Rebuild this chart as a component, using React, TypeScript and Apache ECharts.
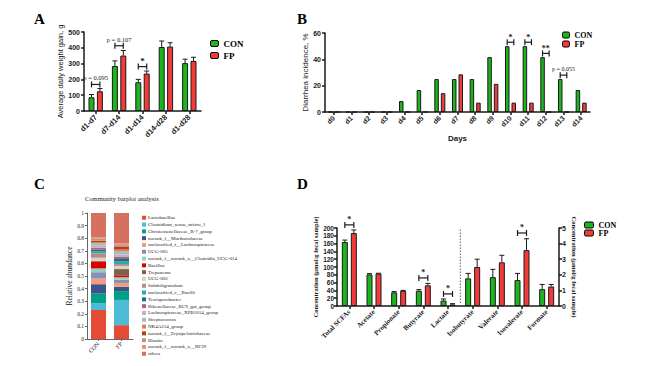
import React, { useEffect, useRef } from 'react';
import * as echarts from 'echarts';

const GREEN = '#1DB51D';
const RED = '#F23A3A';
const INK = '#1a1a1a';
const SANS = 'Liberation Sans';
const SERIF = 'Liberation Serif';

// ---------- Panel A ----------
const A_CATS = ['d1-d7', 'd7-d14', 'd1-d14', 'd14-d28', 'd1-d28'];
const A_CON = [87, 285, 182, 405, 303];
const A_CON_ERR = [17, 32, 18, 38, 25];
const A_FP = [125, 351, 237, 408, 317];
const A_FP_ERR = [17, 32, 16, 24, 23];
const A_SIG_POS = [0, 1, 2];
const A_SIG_Y = [168, 413, 281];
const A_SIG_TXT = ['p = 0.095', 'p = 0.107', '*'];

// ---------- Panel B ----------
const B_CATS = ['d0', 'd1', 'd2', 'd3', 'd4', 'd5', 'd6', 'd7', 'd8', 'd9', 'd10', 'd11', 'd12', 'd13', 'd14'];
const B_CON = [0, 0, 0, 0, 8.3, 16.7, 25, 25, 25, 41.7, 50, 50, 41.7, 25, 16.7];
const B_FP = [0, 0, 0, 0, 0, 0, 14.3, 28.6, 7.1, 21.4, 7.1, 7.1, 0, 0, 7.1];
const B_SIG_POS = [10, 11, 12, 13];
const B_SIG_Y = [53, 53, 44.5, 28];
const B_SIG_TXT = ['*', '*', '**', 'p = 0.055'];

// ---------- Panel C ----------
const C_GROUPS = ['CON', 'FP'];
const C_GENERA = [
  'Lactobacillus',
  'Clostridium_sensu_stricto_1',
  'Christensenellaceae_R-7_group',
  'norank_f__Muribaculaceae',
  'unclassified_f__Lachnospiraceae',
  'UCG-005',
  'norank_f__norank_o__Clostridia_UCG-014',
  'Bacillus',
  'Treponema',
  'UCG-002',
  'Subdoligranulum',
  'unclassified_c__Bacilli',
  'Terrisporobacter',
  'Rikenellaceae_RC9_gut_group',
  'Lachnospiraceae_XPB1014_group',
  'Streptococcus',
  'NK4A214_group',
  'norank_f__Erysipelotrichaceae',
  'Blautia',
  'norank_f__norank_o__RF39',
  'others',
];
const C_COLORS = [
  '#E64B35', '#4DBBD5', '#00A087', '#3C5488', '#F39B7F', '#8491B4', '#91D1C2',
  '#DC0000', '#7E6148', '#D3D3D3', '#C4877C', '#22AEB4', '#1F6E7A', '#9B6A8C',
  '#D9A7B5', '#9CC0CC', '#E0804F', '#B2401F', '#B09C85', '#F2907A', '#D6705F',
];
const C_CON = [0.23, 0.055, 0.075, 0.075, 0.045, 0.05, 0.03, 0.055, 0.005, 0.025, 0.035,
  0.015, 0.015, 0.015, 0.015, 0.018, 0.012, 0.01, 0.015, 0.01, 0.195];
const C_FP = [0.11, 0.2, 0.07, 0.035, 0.03, 0.025, 0.02, 0.015, 0.05, 0.025, 0.015,
  0.02, 0.02, 0.02, 0.015, 0.025, 0.015, 0.025, 0.01, 0.015, 0.24];

// ---------- Panel D ----------
const D_CATS = ['Total SCFAs', 'Acetate', 'Propionate', 'Butyrate', 'Lactate',
  'Isobutyrate', 'Valerate', 'Isovalerate', 'Formate'];
const D_CON_L = [164, 81, 35, 39, 14];
const D_CON_L_ERR = [5, 2, 2, 3, 4];
const D_FP_L = [187, 83, 39, 53, 4];
const D_FP_L_ERR = [8, 1, 1, 5, 2];
const D_CON_R = [1.77, 1.85, 1.66, 1.08];
const D_CON_R_ERR = [0.32, 0.5, 0.43, 0.3];
const D_FP_R = [2.5, 2.8, 3.58, 1.25];
const D_FP_R_ERR = [0.5, 0.45, 0.73, 0.13];
const D_SIG_L_POS = [0, 3, 4];
const D_SIG_L_Y = [208, 72, 31];
const D_SIG_L_TXT = ['*', '*', '*'];
const D_SIG_R_POS = [7];
const D_SIG_R_Y = [4.68];
const D_SIG_R_TXT = ['*'];

function errSeries(xi: number, yi: number, means: number[], errs: number[], offset: number, cap: number, start = 0) {
  return {
    type: 'custom', xAxisIndex: xi, yAxisIndex: yi, silent: true, z: 5,
    data: means.map((m, i) => [i + start, m, errs[i]]),
    renderItem: (params: any, api: any) => {
      const x = api.value(0), m = api.value(1), e = api.value(2);
      const p0 = api.coord([x, m]);
      const p1 = api.coord([x, m + e]);
      const cx = p0[0] + offset;
      return {
        type: 'group', children: [
          { type: 'line', shape: { x1: cx, y1: p0[1], x2: cx, y2: p1[1] }, style: { stroke: INK, lineWidth: 1 } },
          { type: 'line', shape: { x1: cx - cap, y1: p1[1], x2: cx + cap, y2: p1[1] }, style: { stroke: INK, lineWidth: 1 } },
        ],
      };
    },
  };
}

function sigSeries(xi: number, yi: number, pos: number[], ys: number[], txt: string[], half: number, font: string, starFont: string) {
  return {
    type: 'custom', xAxisIndex: xi, yAxisIndex: yi, silent: true, z: 6, clip: false,
    data: pos.map((p, i) => [p, ys[i]]),
    renderItem: (params: any, api: any) => {
      const p = api.coord([api.value(0), api.value(1)]);
      const t = txt[params.dataIndex];
      const isStar = t.indexOf('*') === 0;
      return {
        type: 'group', children: [
          { type: 'line', shape: { x1: p[0] - half, y1: p[1], x2: p[0] + half, y2: p[1] }, style: { stroke: INK, lineWidth: 1.2 } },
          { type: 'line', shape: { x1: p[0] - half, y1: p[1] - 3, x2: p[0] - half, y2: p[1] + 3 }, style: { stroke: INK, lineWidth: 1.2 } },
          { type: 'line', shape: { x1: p[0] + half, y1: p[1] - 3, x2: p[0] + half, y2: p[1] + 3 }, style: { stroke: INK, lineWidth: 1.2 } },
          {
            type: 'text', x: p[0], y: p[1] - (isStar ? 1 : 3),
            style: { text: t, fill: INK, font: isStar ? starFont : font, align: 'center', verticalAlign: 'bottom' },
          },
        ],
      };
    },
  };
}

const axisLine = { show: true, lineStyle: { color: INK, width: 1.5 } };
const axisTick = { show: true, length: 3, lineStyle: { color: INK, width: 1.5 } };

export default function App() {
  const ref = useRef<HTMLDivElement>(null);
  useEffect(() => {
    const chart = echarts.init(ref.current!, undefined, { renderer: 'svg' });
    const padL = (arr: number[]) => [...arr, ...D_CATS.slice(arr.length).map(() => '-')];
    const padR = (arr: number[]) => [...D_CATS.slice(0, D_CATS.length - arr.length).map(() => '-'), ...arr];

    const legendText = (size: number) => ({ fontFamily: SERIF, fontWeight: 'bold', fontSize: size, color: '#000' });

    const option: any = {
      animation: false,
      backgroundColor: '#fff',
      graphic: [
        { type: 'text', left: 34, top: 11, style: { text: 'A', font: 'bold 15px "Liberation Serif"', fill: '#000' } },
        { type: 'text', left: 297, top: 11, style: { text: 'B', font: 'bold 15px "Liberation Serif"', fill: '#000' } },
        { type: 'text', left: 34, top: 176, style: { text: 'C', font: 'bold 15px "Liberation Serif"', fill: '#000' } },
        { type: 'text', left: 297, top: 176, style: { text: 'D', font: 'bold 15px "Liberation Serif"', fill: '#000' } },
        { type: 'text', left: 85, top: 195, style: { text: 'Community barplot analysis', font: '6.5px "Liberation Serif"', fill: '#222' } },
      ],
      legend: [
        {
          data: ['CON', 'FP'], orient: 'vertical', left: 205, top: 34, itemWidth: 8, itemHeight: 6, itemGap: 3,
          selectedMode: false, textStyle: legendText(9), itemStyle: { borderColor: '#000', borderWidth: 1 },
        },
        {
          data: ['CON', 'FP'], orient: 'vertical', left: 557, top: 26, itemWidth: 7, itemHeight: 6, itemGap: 1,
          selectedMode: false, textStyle: legendText(8), itemStyle: { borderColor: '#000', borderWidth: 1 },
        },
        {
          data: ['CON', 'FP'], orient: 'vertical', left: 579, top: 216, itemWidth: 9, itemHeight: 6, itemGap: 0,
          selectedMode: false, textStyle: legendText(8), itemStyle: { borderColor: '#000', borderWidth: 1 },
        },
        {
          data: C_GENERA, orient: 'vertical', left: 137, top: 210, itemWidth: 4, itemHeight: 4, itemGap: 1.3,
          selectedMode: false, icon: 'rect',
          textStyle: { fontFamily: SERIF, fontSize: 5, color: '#222', lineHeight: 5.5, padding: [0, 0, 0, -3] },
        },
      ],
      grid: [
        { left: 84, top: 32, width: 117, height: 79 },
        { left: 325, top: 33, width: 265, height: 79 },
        { left: 87, top: 213, width: 46, height: 126 },
        { left: 337, top: 228, width: 222, height: 78 },
      ],
      xAxis: [
        {
          gridIndex: 0, type: 'category', data: A_CATS, axisLine, axisTick: { ...axisTick, alignWithLabel: true },
          axisLabel: { rotate: 45, interval: 0, fontSize: 7.5, fontWeight: 'bold', fontFamily: SANS, color: INK, margin: 5 },
        },
        {
          gridIndex: 1, type: 'category', data: B_CATS, axisLine, axisTick: { ...axisTick, alignWithLabel: true },
          axisLabel: { rotate: 45, interval: 0, fontSize: 7, fontWeight: 'bold', fontFamily: SANS, color: INK, margin: 5 },
          name: 'Days', nameLocation: 'middle', nameGap: 22,
          nameTextStyle: { fontSize: 8, fontWeight: 'bold', fontFamily: SANS, color: INK },
        },
        {
          gridIndex: 2, type: 'category', data: C_GROUPS,
          axisLine: { show: true, lineStyle: { color: '#666', width: 1 } },
          axisTick: { show: true, alignWithLabel: true, length: 2, lineStyle: { color: '#666' } },
          axisLabel: { rotate: 45, interval: 0, fontSize: 6, fontFamily: SERIF, color: '#222', margin: 4 },
        },
        {
          gridIndex: 3, type: 'category', data: D_CATS, axisLine, axisTick: { ...axisTick, alignWithLabel: true },
          axisLabel: { rotate: 45, interval: 0, fontSize: 7, fontWeight: 'bold', fontFamily: SERIF, color: INK, margin: 5 },
        },
        { gridIndex: 3, type: 'category', data: D_CATS, show: false },
      ],
      yAxis: [
        {
          gridIndex: 0, type: 'value', min: 0, max: 500, interval: 100, axisLine, axisTick, splitLine: { show: false },
          axisLabel: { fontSize: 7, fontWeight: 'bold', fontFamily: SANS, color: INK, margin: 4 },
          name: 'Average daily weight gain, g', nameLocation: 'middle', nameGap: 17,
          nameTextStyle: { fontSize: 7.5, fontFamily: SANS, color: INK },
        },
        {
          gridIndex: 1, type: 'value', min: 0, max: 60, interval: 20, axisLine, axisTick, splitLine: { show: false },
          axisLabel: { fontSize: 7, fontWeight: 'bold', fontFamily: SANS, color: INK, margin: 4 },
          name: 'Diarrhea incidence, %', nameLocation: 'middle', nameGap: 14,
          nameTextStyle: { fontSize: 8, fontFamily: SANS, color: INK },
        },
        {
          gridIndex: 2, type: 'value', min: 0, max: 1, interval: 0.1,
          axisLine: { show: true, lineStyle: { color: '#666', width: 1 } },
          axisTick: { show: true, length: 2, lineStyle: { color: '#666' } }, splitLine: { show: false },
          axisLabel: { fontSize: 5.5, fontFamily: SERIF, color: '#222', margin: 3, formatter: (v: number) => String(+v.toFixed(1)) },
          name: 'Relative abundance', nameLocation: 'middle', nameGap: 12,
          nameTextStyle: { fontSize: 7.5, fontFamily: SERIF, color: '#111' },
        },
        {
          gridIndex: 3, type: 'value', min: 0, max: 200, interval: 20, axisLine, axisTick, splitLine: { show: false },
          axisLabel: { fontSize: 6.5, fontWeight: 'bold', fontFamily: SANS, color: INK, margin: 3 },
          name: 'Concentration (μmol/g fecal sample)', nameLocation: 'middle', nameGap: 17,
          nameTextStyle: { fontSize: 6.5, fontWeight: 'bold', fontFamily: SERIF, color: INK },
        },
        {
          gridIndex: 3, type: 'value', position: 'right', min: 0, max: 5, interval: 1, axisLine, axisTick, splitLine: { show: false },
          axisLabel: { fontSize: 7, fontWeight: 'bold', fontFamily: SANS, color: INK, margin: 3 },
          name: 'Concentration (μmol/g fecal sample)', nameLocation: 'middle', nameGap: 12, nameRotate: -90,
          nameTextStyle: { fontSize: 6.5, fontWeight: 'bold', fontFamily: SERIF, color: INK },
        },
      ],
      series: [
        // A
        { type: 'bar', name: 'CON', xAxisIndex: 0, yAxisIndex: 0, data: A_CON, barWidth: 6, barGap: '40%', itemStyle: { color: GREEN, borderColor: INK, borderWidth: 1 } },
        { type: 'bar', name: 'FP', xAxisIndex: 0, yAxisIndex: 0, data: A_FP, barWidth: 6, barGap: '40%', itemStyle: { color: RED, borderColor: INK, borderWidth: 1 } },
        errSeries(0, 0, A_CON, A_CON_ERR, -4.2, 2.5),
        errSeries(0, 0, A_FP, A_FP_ERR, 4.2, 2.5),
        sigSeries(0, 0, A_SIG_POS, A_SIG_Y, A_SIG_TXT, 4.2, '6.5px "Liberation Serif"', 'bold 9px "Liberation Serif"'),
        // B
        { type: 'bar', name: 'CON', xAxisIndex: 1, yAxisIndex: 1, data: B_CON, barWidth: 4.5, barGap: '45%', itemStyle: { color: GREEN, borderColor: INK, borderWidth: 1 } },
        { type: 'bar', name: 'FP', xAxisIndex: 1, yAxisIndex: 1, data: B_FP, barWidth: 4.5, barGap: '45%', itemStyle: { color: RED, borderColor: INK, borderWidth: 1 } },
        sigSeries(1, 1, B_SIG_POS, B_SIG_Y, B_SIG_TXT, 3.3, '6px "Liberation Serif"', 'bold 8px "Liberation Serif"'),
        // C
        ...C_GENERA.map((g, i) => ({
          type: 'bar', name: g, stack: 'c', xAxisIndex: 2, yAxisIndex: 2, barWidth: 15,
          data: [C_CON[i], C_FP[i]], itemStyle: { color: C_COLORS[i] },
        })),
        // D
        { type: 'bar', name: 'CON', xAxisIndex: 3, yAxisIndex: 3, data: padL(D_CON_L), barWidth: 6, barGap: '50%', itemStyle: { color: GREEN, borderColor: INK, borderWidth: 1 } },
        { type: 'bar', name: 'FP', xAxisIndex: 3, yAxisIndex: 3, data: padL(D_FP_L), barWidth: 6, barGap: '50%', itemStyle: { color: RED, borderColor: INK, borderWidth: 1 } },
        { type: 'bar', name: 'CON', xAxisIndex: 4, yAxisIndex: 4, data: padR(D_CON_R), barWidth: 6, barGap: '50%', itemStyle: { color: GREEN, borderColor: INK, borderWidth: 1 } },
        { type: 'bar', name: 'FP', xAxisIndex: 4, yAxisIndex: 4, data: padR(D_FP_R), barWidth: 6, barGap: '50%', itemStyle: { color: RED, borderColor: INK, borderWidth: 1 } },
        errSeries(3, 3, D_CON_L, D_CON_L_ERR, -4.5, 2.5),
        errSeries(3, 3, D_FP_L, D_FP_L_ERR, 4.5, 2.5),
        errSeries(4, 4, D_CON_R, D_CON_R_ERR, -4.5, 2.5, D_CATS.length - D_CON_R.length),
        errSeries(4, 4, D_FP_R, D_FP_R_ERR, 4.5, 2.5, D_CATS.length - D_FP_R.length),
        sigSeries(3, 3, D_SIG_L_POS, D_SIG_L_Y, D_SIG_L_TXT, 4.5, '6px "Liberation Serif"', 'bold 8px "Liberation Serif"'),
        sigSeries(4, 4, D_SIG_R_POS, D_SIG_R_Y, D_SIG_R_TXT, 4.5, '6px "Liberation Serif"', 'bold 8px "Liberation Serif"'),
        {
          type: 'custom', xAxisIndex: 3, yAxisIndex: 3, silent: true, z: 4, data: [[D_CON_L.length - 1, 0]],
          renderItem: (params: any, api: any) => {
            const p0 = api.coord([api.value(0), 0]);
            const p1 = api.coord([api.value(0), 200]);
            const cx = p0[0] + api.size([1, 0])[0] / 2;
            return { type: 'line', shape: { x1: cx, y1: p0[1] - 3, x2: cx, y2: p1[1] }, style: { stroke: '#666', lineWidth: 1, lineDash: [1.5, 1.5] } };
          },
        },
      ],
    };
    chart.setOption(option);
    return () => chart.dispose();
  }, []);
  return <div ref={ref} style={{ position: 'absolute', left: 0, top: 0, width: 650, height: 366 }} />;
}
